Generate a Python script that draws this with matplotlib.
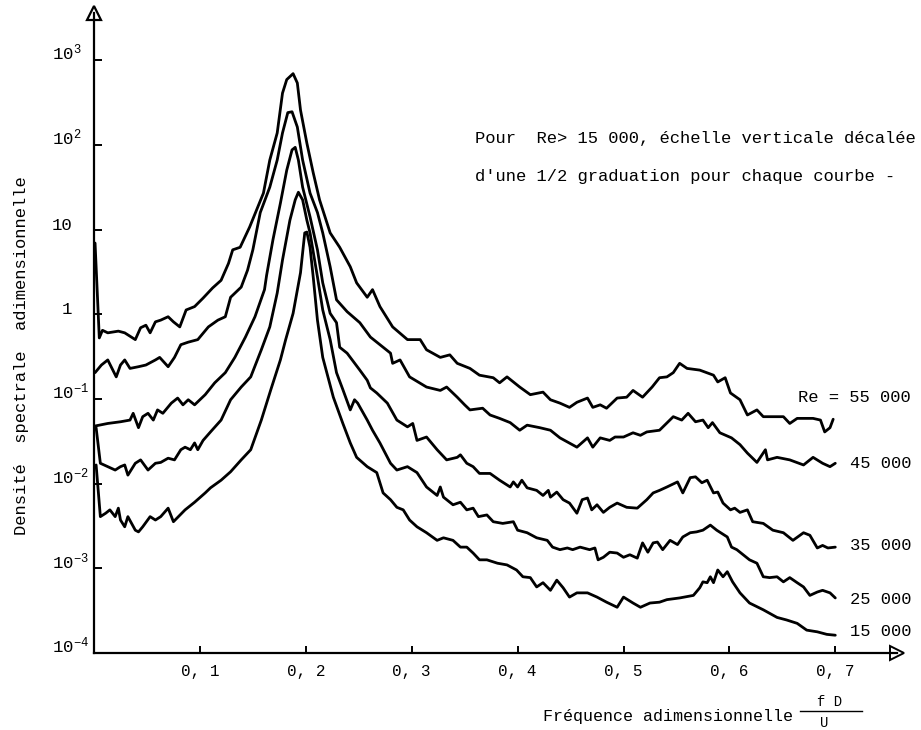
import numpy as np
import matplotlib
matplotlib.use("Agg")
import matplotlib.pyplot as plt
from matplotlib.transforms import blended_transform_factory

plt.rcParams['font.family'] = ['Liberation Mono', 'DejaVu Sans Mono']
plt.rcParams['mathtext.fontset'] = 'custom'
plt.rcParams['mathtext.rm'] = 'Liberation Mono'
plt.rcParams['mathtext.it'] = 'Liberation Mono'
plt.rcParams['mathtext.bf'] = 'Liberation Mono'

# ---------------- data (frequency fD/U, log10 of spectral density) ----------------
f_55000 = [0.001, 0.005, 0.008, 0.013, 0.023, 0.029, 0.039, 0.044, 0.049, 0.053, 0.058, 0.063,
           0.070, 0.075, 0.081, 0.087, 0.095, 0.103, 0.112, 0.120, 0.127, 0.131, 0.138, 0.147,
           0.160, 0.166, 0.173, 0.178, 0.182, 0.188, 0.192, 0.195, 0.201, 0.207, 0.213, 0.223,
           0.232, 0.242, 0.248, 0.258, 0.263, 0.270, 0.282, 0.296, 0.308, 0.314, 0.327, 0.336,
           0.343, 0.355, 0.364, 0.377, 0.383, 0.390, 0.402, 0.412, 0.424, 0.431, 0.440, 0.449,
           0.456, 0.466, 0.471, 0.478, 0.484, 0.494, 0.503, 0.509, 0.518, 0.527, 0.534, 0.541,
           0.547, 0.553, 0.560, 0.572, 0.585, 0.589, 0.596, 0.601, 0.610, 0.617, 0.626, 0.632,
           0.641, 0.651, 0.657, 0.664, 0.679, 0.686, 0.690, 0.695, 0.698]
logd_55000 = [0.84, -0.28, -0.19, -0.22, -0.20, -0.22, -0.30, -0.16, -0.13, -0.22, -0.09, -0.07,
              -0.03, -0.09, -0.15, 0.05, 0.09, 0.19, 0.31, 0.40, 0.60, 0.76, 0.79, 1.03,
              1.43, 1.82, 2.14, 2.61, 2.77, 2.84, 2.73, 2.41, 2.02, 1.67, 1.35, 0.96,
              0.79, 0.56, 0.37, 0.20, 0.29, 0.09, -0.15, -0.30, -0.30, -0.42, -0.51, -0.48,
              -0.58, -0.64, -0.72, -0.75, -0.81, -0.74, -0.86, -0.95, -0.92, -1.01, -1.05, -1.10,
              -1.04, -0.99, -1.10, -1.07, -1.11, -0.99, -0.98, -0.90, -0.98, -0.86, -0.75, -0.74,
              -0.69, -0.58, -0.64, -0.66, -0.72, -0.80, -0.75, -0.93, -1.01, -1.19, -1.13, -1.21,
              -1.21, -1.21, -1.29, -1.23, -1.23, -1.25, -1.39, -1.34, -1.24]

f_45000 = [0.001, 0.007, 0.013, 0.021, 0.025, 0.029, 0.034, 0.042, 0.049, 0.058, 0.062, 0.070,
           0.076, 0.082, 0.089, 0.098, 0.108, 0.117, 0.124, 0.129, 0.139, 0.145, 0.150, 0.157,
           0.166, 0.173, 0.178, 0.183, 0.187, 0.192, 0.197, 0.204, 0.211, 0.216, 0.223, 0.229,
           0.239, 0.251, 0.261, 0.273, 0.280, 0.282, 0.289, 0.298, 0.314, 0.327, 0.333, 0.343,
           0.350, 0.355, 0.367, 0.374, 0.383, 0.393, 0.402, 0.409, 0.421, 0.431, 0.440, 0.456,
           0.466, 0.471, 0.478, 0.487, 0.492, 0.500, 0.509, 0.516, 0.522, 0.534, 0.547, 0.555,
           0.561, 0.568, 0.575, 0.580, 0.584, 0.591, 0.602, 0.610, 0.617, 0.626, 0.634, 0.636,
           0.645, 0.657, 0.670, 0.679, 0.688, 0.695, 0.700]
logd_45000 = [-0.69, -0.60, -0.54, -0.74, -0.60, -0.54, -0.64, -0.62, -0.60, -0.54, -0.51, -0.62,
              -0.51, -0.36, -0.33, -0.30, -0.15, -0.07, -0.03, 0.20, 0.32, 0.52, 0.76, 1.20,
              1.50, 1.82, 2.14, 2.38, 2.39, 2.21, 1.82, 1.43, 1.20, 0.96, 0.56, 0.17,
              0.03, -0.10, -0.27, -0.39, -0.46, -0.58, -0.54, -0.74, -0.86, -0.90, -0.86, -0.98,
              -1.07, -1.13, -1.11, -1.19, -1.23, -1.28, -1.37, -1.31, -1.34, -1.37, -1.46, -1.57,
              -1.46, -1.57, -1.46, -1.49, -1.45, -1.45, -1.40, -1.43, -1.39, -1.37, -1.21, -1.25,
              -1.17, -1.27, -1.25, -1.34, -1.28, -1.40, -1.46, -1.54, -1.64, -1.75, -1.60, -1.72,
              -1.69, -1.72, -1.78, -1.69, -1.76, -1.80, -1.76]

f_35000 = [0.001, 0.013, 0.025, 0.034, 0.037, 0.042, 0.046, 0.051, 0.056, 0.060, 0.065, 0.073,
           0.079, 0.084, 0.089, 0.095, 0.105, 0.114, 0.124, 0.133, 0.143, 0.152, 0.161, 0.163,
           0.169, 0.176, 0.182, 0.187, 0.190, 0.193, 0.197, 0.204, 0.211, 0.216, 0.223, 0.229,
           0.232, 0.239, 0.251, 0.258, 0.261, 0.267, 0.277, 0.286, 0.296, 0.301, 0.305, 0.314,
           0.324, 0.333, 0.343, 0.346, 0.352, 0.358, 0.364, 0.374, 0.383, 0.393, 0.396, 0.400,
           0.404, 0.409, 0.418, 0.424, 0.429, 0.431, 0.437, 0.443, 0.449, 0.456, 0.461, 0.466,
           0.470, 0.475, 0.481, 0.487, 0.494, 0.503, 0.513, 0.522, 0.528, 0.534, 0.541, 0.551,
           0.556, 0.563, 0.568, 0.574, 0.579, 0.585, 0.589, 0.594, 0.601, 0.605, 0.610, 0.617,
           0.622, 0.632, 0.641, 0.651, 0.660, 0.670, 0.676, 0.683, 0.688, 0.693, 0.700]
logd_35000 = [-1.32, -1.29, -1.27, -1.25, -1.17, -1.34, -1.21, -1.17, -1.25, -1.13, -1.17, -1.05,
              -0.99, -1.07, -1.01, -1.07, -0.95, -0.81, -0.69, -0.51, -0.27, -0.03, 0.29, 0.46,
              0.88, 1.31, 1.70, 1.94, 1.97, 1.82, 1.50, 1.15, 0.76, 0.37, 0.01, -0.10,
              -0.39, -0.46, -0.66, -0.78, -0.87, -0.93, -1.05, -1.25, -1.33, -1.29, -1.49, -1.45,
              -1.60, -1.72, -1.69, -1.66, -1.76, -1.80, -1.88, -1.88, -1.96, -2.04, -1.98, -2.04,
              -1.96, -2.05, -2.08, -2.14, -2.08, -2.16, -2.10, -2.19, -2.23, -2.35, -2.19, -2.17,
              -2.31, -2.25, -2.34, -2.28, -2.23, -2.28, -2.29, -2.19, -2.11, -2.08, -2.04, -1.98,
              -2.11, -1.93, -1.92, -1.99, -1.96, -2.11, -2.10, -2.23, -2.31, -2.29, -2.34, -2.31,
              -2.45, -2.47, -2.55, -2.58, -2.67, -2.58, -2.61, -2.76, -2.73, -2.76, -2.75]

f_25000 = [0.002, 0.006, 0.013, 0.020, 0.025, 0.029, 0.032, 0.039, 0.044, 0.051, 0.058, 0.063,
           0.070, 0.076, 0.079, 0.082, 0.086, 0.091, 0.095, 0.098, 0.103, 0.110, 0.120, 0.129,
           0.139, 0.148, 0.158, 0.166, 0.173, 0.178, 0.185, 0.190, 0.193, 0.197, 0.201, 0.204,
           0.211, 0.216, 0.223, 0.229, 0.235, 0.242, 0.246, 0.249, 0.258, 0.263, 0.270, 0.280,
           0.286, 0.296, 0.305, 0.314, 0.324, 0.327, 0.330, 0.339, 0.346, 0.352, 0.358, 0.363,
           0.371, 0.377, 0.386, 0.396, 0.400, 0.409, 0.418, 0.428, 0.433, 0.440, 0.447, 0.452,
           0.459, 0.468, 0.473, 0.476, 0.481, 0.487, 0.494, 0.500, 0.506, 0.513, 0.518, 0.523,
           0.528, 0.532, 0.537, 0.544, 0.551, 0.556, 0.563, 0.569, 0.575, 0.582, 0.588, 0.598,
           0.602, 0.607, 0.613, 0.619, 0.626, 0.632, 0.638, 0.645, 0.651, 0.657, 0.664, 0.670,
           0.676, 0.683, 0.688, 0.695, 0.700]
logd_25000 = [-1.34, -1.76, -1.80, -1.84, -1.80, -1.78, -1.90, -1.76, -1.72, -1.84, -1.76, -1.75,
              -1.70, -1.72, -1.66, -1.60, -1.57, -1.60, -1.52, -1.60, -1.49, -1.39, -1.25, -1.01,
              -0.86, -0.74, -0.42, -0.15, 0.25, 0.64, 1.11, 1.35, 1.44, 1.35, 1.11, 0.96,
              0.44, 0.05, -0.30, -0.69, -0.89, -1.13, -1.01, -1.05, -1.25, -1.37, -1.52, -1.76,
              -1.84, -1.80, -1.87, -2.04, -2.14, -2.04, -2.16, -2.25, -2.22, -2.31, -2.29, -2.39,
              -2.37, -2.45, -2.47, -2.45, -2.55, -2.58, -2.64, -2.67, -2.75, -2.78, -2.76, -2.78,
              -2.75, -2.78, -2.76, -2.90, -2.87, -2.81, -2.82, -2.87, -2.84, -2.88, -2.70, -2.81,
              -2.70, -2.69, -2.78, -2.67, -2.72, -2.63, -2.58, -2.57, -2.55, -2.49, -2.55, -2.63,
              -2.75, -2.78, -2.84, -2.90, -2.94, -3.10, -3.11, -3.10, -3.16, -3.11, -3.17, -3.22,
              -3.32, -3.28, -3.26, -3.29, -3.35]

f_15000 = [0.002, 0.006, 0.011, 0.015, 0.020, 0.023, 0.025, 0.029, 0.032, 0.039, 0.042, 0.046,
           0.053, 0.058, 0.063, 0.070, 0.075, 0.086, 0.095, 0.105, 0.110, 0.120, 0.129, 0.139,
           0.148, 0.158, 0.167, 0.176, 0.181, 0.188, 0.195, 0.199, 0.201, 0.204, 0.207, 0.211,
           0.216, 0.226, 0.235, 0.242, 0.248, 0.258, 0.267, 0.273, 0.280, 0.286, 0.292, 0.298,
           0.305, 0.314, 0.324, 0.330, 0.339, 0.346, 0.352, 0.358, 0.364, 0.371, 0.381, 0.390,
           0.399, 0.405, 0.412, 0.418, 0.424, 0.431, 0.437, 0.443, 0.449, 0.456, 0.466, 0.475,
           0.484, 0.494, 0.500, 0.509, 0.516, 0.525, 0.534, 0.541, 0.553, 0.566, 0.572, 0.575,
           0.579, 0.582, 0.585, 0.589, 0.594, 0.598, 0.603, 0.610, 0.619, 0.632, 0.645, 0.654,
           0.664, 0.673, 0.683, 0.692, 0.700]
logd_15000 = [-1.78, -2.39, -2.35, -2.31, -2.39, -2.29, -2.43, -2.51, -2.39, -2.55, -2.57, -2.51,
              -2.39, -2.43, -2.39, -2.29, -2.45, -2.31, -2.22, -2.11, -2.05, -1.96, -1.86, -1.72,
              -1.60, -1.25, -0.89, -0.54, -0.30, 0.01, 0.49, 0.96, 0.97, 0.79, 0.44, -0.07,
              -0.51, -0.98, -1.29, -1.52, -1.69, -1.80, -1.87, -2.11, -2.19, -2.28, -2.31, -2.43,
              -2.51, -2.58, -2.67, -2.64, -2.67, -2.75, -2.75, -2.82, -2.90, -2.90, -2.94, -2.96,
              -3.02, -3.10, -3.11, -3.22, -3.17, -3.26, -3.14, -3.23, -3.34, -3.29, -3.29, -3.34,
              -3.40, -3.46, -3.34, -3.41, -3.46, -3.41, -3.40, -3.37, -3.35, -3.32, -3.23, -3.16,
              -3.17, -3.10, -3.17, -3.02, -3.10, -3.04, -3.16, -3.29, -3.41, -3.49, -3.58, -3.61,
              -3.65, -3.73, -3.75, -3.78, -3.79]

curve_labels = ['Re = 55 000', '45 000', '35 000', '25 000', '15 000']
x_ticks = [0.1, 0.2, 0.3, 0.4, 0.5, 0.6, 0.7]
x_tick_labels = ['0, 1', '0, 2', '0, 3', '0, 4', '0, 5', '0, 6', '0, 7']
y_decades = [3, 2, 1, 0, -1, -2, -3, -4]
y_tick_labels = [r'$10^{3}$', r'$10^{2}$', '10', '1', r'$10^{-1}$', r'$10^{-2}$', r'$10^{-3}$', r'$10^{-4}$']

# ---------------- figure ----------------
W, H = 921, 730
fig = plt.figure(figsize=(W / 100, H / 100), dpi=100)
ax_left, ax_right, ax_bottom, ax_top = 94, 897, 653, 13
ax = fig.add_axes([ax_left / W, 1 - ax_bottom / H, (ax_right - ax_left) / W, (ax_bottom - ax_top) / H])

px_per_tenth = 105.9
px_per_decade = 84.7
ax.set_xlim(0, (ax_right - ax_left) / px_per_tenth * 0.1)
ax.set_yscale('log')
ax.set_ylim(1e-4, 10 ** (-4 + (ax_bottom - ax_top) / px_per_decade))

series = [(f_55000, logd_55000), (f_45000, logd_45000), (f_35000, logd_35000),
          (f_25000, logd_25000), (f_15000, logd_15000)]
for f, ld in series:
    ax.plot(f, 10.0 ** np.array(ld), color='black', lw=2.0, solid_joinstyle='round',
            solid_capstyle='round', clip_on=False)

# axes styling
for s in ['top', 'right']:
    ax.spines[s].set_visible(False)
for s in ['left', 'bottom']:
    ax.spines[s].set_linewidth(1.6)
ax.minorticks_off()
ax.set_yticks([10.0 ** k for k in y_decades])
ax.set_yticklabels([])
ax.tick_params(axis='y', direction='in', length=6, width=1.4, left=True)
ax.set_xticks(x_ticks)
ax.set_xticklabels(x_tick_labels, fontsize=11.5)
ax.tick_params(axis='x', direction='in', length=5, width=1.4, pad=8)

# axis arrows
ax.plot(1, 0, marker='>', markersize=10, mfc='white', mec='black', mew=1.4,
        transform=ax.transAxes, clip_on=False)
ax.plot(0, 1, marker='^', markersize=10, mfc='white', mec='black', mew=1.6,
        transform=ax.transAxes, clip_on=False)

# y tick labels (left-aligned like the typewritten original)
trans = blended_transform_factory(fig.transFigure, ax.transData)
label_x_px = [52, 52, 52, 62, 52, 52, 52, 52]
for k, lab, xp in zip(y_decades, y_tick_labels, label_x_px):
    ax.text(xp / W, 10.0 ** k, lab, transform=trans, ha='left', va='baseline', fontsize=12.5)

# curve labels
lab_pos = [(798, 398), (850, 463), (850, 545), (850, 600), (850, 632)]
for lab, (xp, yp) in zip(curve_labels, lab_pos):
    fig.text(xp / W, 1 - yp / H, lab, ha='left', va='center', fontsize=12.3)

# annotation text
fig.text(475 / W, 1 - 139 / H, 'Pour  Re> 15 000, échelle verticale décalée',
         ha='left', va='center', fontsize=12.3)
fig.text(475 / W, 1 - 176 / H, "d'une 1/2 graduation pour chaque courbe -",
         ha='left', va='center', fontsize=12.3)

# axis labels
fig.text(22 / W, 1 - 356 / H, 'Densité  spectrale  adimensionnelle', rotation=90,
         ha='center', va='center', fontsize=12.3)
fig.text(793 / W, 1 - 716 / H, 'Fréquence adimensionnelle', ha='right', va='center', fontsize=12)
fig.text(830 / W, 1 - 702 / H, 'f D', ha='center', va='center', fontsize=10)
fig.add_artist(plt.Line2D([800 / W, 862 / W], [1 - 711 / H, 1 - 711 / H], color='black', lw=1.0))
fig.text(824 / W, 1 - 723 / H, 'U', ha='center', va='center', fontsize=10)

fig.savefig('out.png', dpi=100, facecolor='white')
